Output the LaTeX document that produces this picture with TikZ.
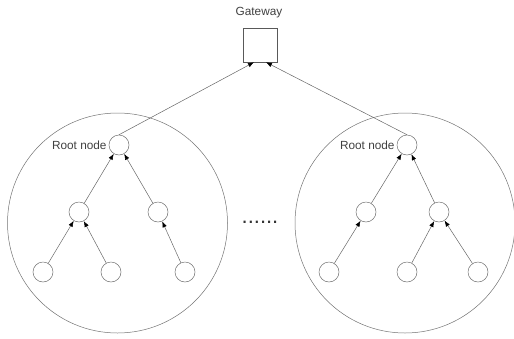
\documentclass[tikz,border=0pt]{standalone}
\usepackage{fontspec}
\setmainfont{Liberation Sans}
\usetikzlibrary{arrows.meta,positioning}

\begin{document}
\begin{tikzpicture}[
    x=1pt,y=-1pt,
    peer/.style={circle,draw=black!55,line width=0.5pt,fill=white,minimum size=20pt,inner sep=0pt},
    cluster/.style={circle,draw=black!55,line width=0.5pt,minimum size=220pt,inner sep=0pt},
    link/.style={draw=black!60,line width=0.5pt,-{Latex[black,length=6pt,width=4.5pt]}},
    lbl/.style={text=black!75,font=\fontsize{11.8}{14}\selectfont,inner sep=1pt}
    ]
    \useasboundingbox (0,0) rectangle (514,338);
    % clusters
    \node[cluster] (lcl) at (117.5,223) {};
    \node[cluster] (rcl) at (405,223) {};
    % gateway
    \node[draw=black!65,line width=0.5pt,fill=white,minimum size=34pt,inner sep=0pt] (gw) at (260,45) {};
    \node[lbl] (gwlabel) at (259,13) {Gateway};
    % left tree
    \node[peer] (lroot) at (119,145) {};
    \node[peer] (lmidA) at (79,212) {};
    \node[peer] (lmidB) at (158,212) {};
    \node[peer] (lleafA) at (43,272) {};
    \node[peer] (lleafB) at (111,272) {};
    \node[peer] (lleafC) at (185,272) {};
    \node[lbl,left=1pt of lroot] (lrootlabel) {Root node};
    % right tree
    \node[peer] (rroot) at (407,145) {};
    \node[peer] (rmidA) at (366,212) {};
    \node[peer] (rmidB) at (439,212) {};
    \node[peer] (rleafA) at (329,272) {};
    \node[peer] (rleafB) at (407,272) {};
    \node[peer] (rleafC) at (478,272) {};
    \node[lbl,left=1pt of rroot] (rrootlabel) {Root node};
    % dots between clusters
    \node[text=black!80,font=\fontsize{22}{24}\selectfont,inner sep=0pt] (gap) at (260,222) {......};
    % links
    \draw[link] (lroot.north) -- ([xshift=-6pt]gw.south);
    \draw[link] (rroot.north) -- ([xshift=6pt]gw.south);
    \draw[link] (lmidA) -- (lroot);
    \draw[link] (lmidB) -- (lroot);
    \draw[link] (lleafA) -- (lmidA);
    \draw[link] (lleafB) -- (lmidA);
    \draw[link] (lleafC) -- (lmidB);
    \draw[link] (rmidA) -- (rroot);
    \draw[link] (rmidB) -- (rroot);
    \draw[link] (rleafA) -- (rmidA);
    \draw[link] (rleafB) -- (rmidB);
    \draw[link] (rleafC) -- (rmidB);
  \end{tikzpicture}
\end{document}
